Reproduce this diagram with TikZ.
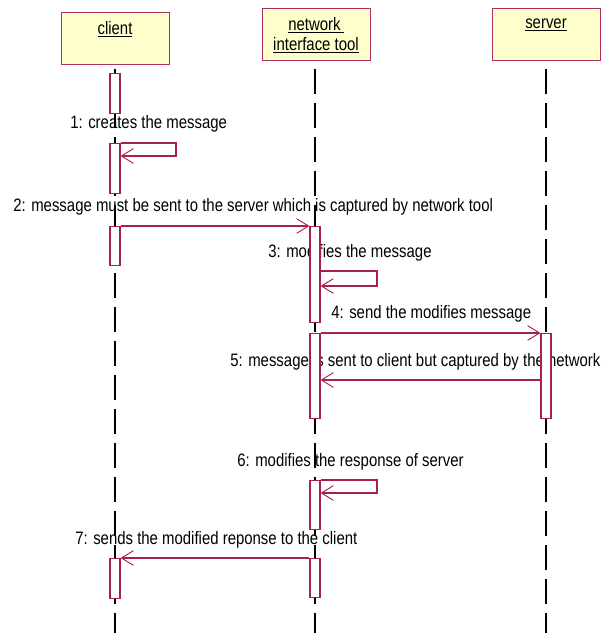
\documentclass[tikz,border=0pt]{standalone}
\usepackage{fontspec}
\setmainfont[FakeStretch=0.83]{Liberation Sans}
\usetikzlibrary{arrows.meta,calc}
\definecolor{objborder}{HTML}{B03060}
\definecolor{objfill}{HTML}{FFFFCC}
\definecolor{msgcol}{HTML}{A8204F}
\tikzset{
  objbox/.style={draw=objborder, fill=objfill, line width=0.9pt, minimum width=81pt, minimum height=39pt, inner sep=0pt, anchor=north west},
  objtext/.style={inner sep=0pt, align=center, font=\fontsize{13.5}{15}\selectfont},
  lifeline/.style={draw=black, line width=0.8pt, dash pattern=on 18.75pt off 6.75pt},
  actbox/.style={draw=msgcol, fill=white, line width=0.8pt, minimum width=7.5pt, inner sep=0pt, anchor=north},
  msg/.style={draw=msgcol, line width=0.8pt, -{Straight Barb[length=9pt,width=11pt,line width=0.7pt]}},
  lbl/.style={inner sep=0pt, anchor=west, font=\fontsize{13.5}{15}\selectfont}
}
\begin{document}
\begin{tikzpicture}[x=0.75pt,y=-0.75pt]
\useasboundingbox (0,0) rectangle (613,634);
% object boxes
\node[objbox] (client) at (61,12) {};
\node[objbox] (net) at (262,8) {};
\node[objbox] (server) at (492,8) {};
\node[objtext] (clientt) at (115,29) {\underline{client}};
\node[objtext] (nett1) at (316,25) {\underline{network\,}};
\node[objtext] (nett2) at (316,45) {\underline{interface tool}};
\node[objtext] (servert) at (546,25) {\underline{server}};
% labels
\node[lbl] (l1) at (70,124) {1: creates the message};
\node[lbl] (l2) at (13,207) {2: message must be sent to the server which is captured by network tool};
\node[lbl] (l3) at (268,253) {3: modifies the message};
\node[lbl] (l4) at (331,314) {4: send the modifies message};
\node[lbl] (l5) at (230,362) {5: message is sent to client but captured by the network};
\node[lbl] (l6) at (237,462) {6: modifies the response of server};
\node[lbl] (l7) at (75,540) {7: sends the modified reponse to the client};
% lifelines
\coordinate (cend) at (115,633);
\coordinate (nend) at (315,633);
\coordinate (send) at (546,633);
\coordinate (cstart) at (115,69);
\coordinate (nstart) at (315,69);
\coordinate (sstart) at (546,69);
\draw[lifeline] (cstart) -- (cend);
\draw[lifeline] (nstart) -- (nend);
\draw[lifeline] (sstart) -- (send);
% activations
\node[actbox, minimum height=30pt] (ca1) at (115,73) {};
\node[actbox, minimum height=37.5pt] (ca2) at (115,143) {};
\node[actbox, minimum height=29.25pt] (ca3) at (115,226) {};
\node[actbox, minimum height=30pt] (ca4) at (115,558) {};
\node[actbox, minimum height=72pt] (na1) at (315,226) {};
\node[actbox, minimum height=63.75pt] (na2) at (315,333) {};
\node[actbox, minimum height=36.75pt] (na3) at (315,480) {};
\node[actbox, minimum height=29.25pt] (na4) at (315,558) {};
\node[actbox, minimum height=63.75pt] (sa1) at (546,333) {};
% messages
\coordinate (s1b) at (176,156);
\draw[msg] (ca2.north east) -| (s1b) -- (ca2.east |- s1b);
\draw[msg] (ca3.north east) -- (na1.north west);
\coordinate (s3a) at (377,271);
\coordinate (s3b) at (377,286);
\draw[msg] (na1.east |- s3a) -- (s3a) -- (s3b) -- (na1.east |- s3b);
\draw[msg] (na2.north east) -- (sa1.north west);
\coordinate (m5) at (0,380);
\draw[msg] (sa1.west |- m5) -- (na2.east |- m5);
\coordinate (s6b) at (377,493);
\draw[msg] (na3.north east) -| (s6b) -- (na3.east |- s6b);
\draw[msg] (na4.north west) -- (ca4.north east);
\end{tikzpicture}
\end{document}
